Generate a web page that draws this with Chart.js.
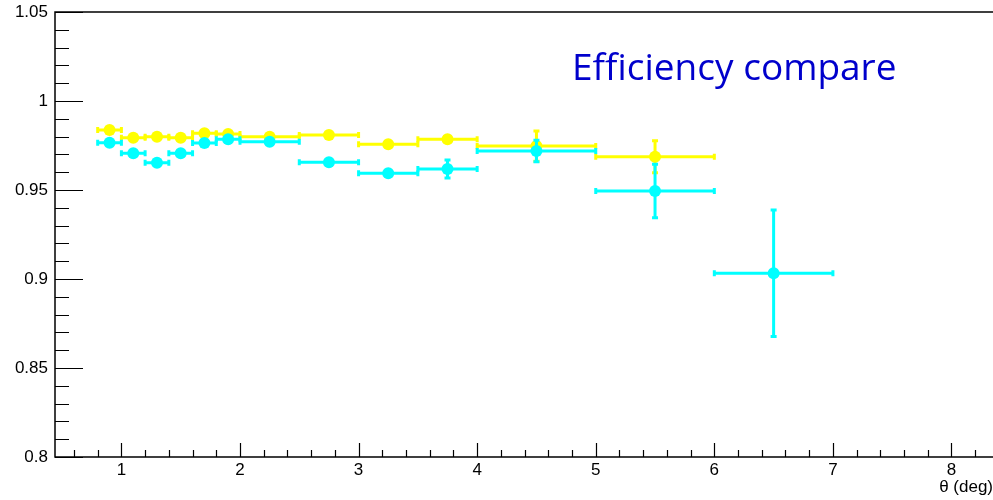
<html lang="en">

<head>
  <meta charset="utf-8">
  <title>Efficiency compare</title>
  <style>
    body {
      padding: 0;
      margin: 0;
      background: #fff;
    }
  </style>
  <script src="https://cdn.jsdelivr.net/npm/chart.js@4.4.1/dist/chart.umd.min.js"></script>
</head>

<body>
  <canvas id="chart" width="993" height="500"></canvas>
  <script>
    // bins in theta (deg): centre and half width
    const binX   = [0.9, 1.1, 1.3, 1.5, 1.7, 1.9, 2.25, 2.75, 3.25, 3.75, 4.5, 5.5, 6.5];
    const binErr = [0.1, 0.1, 0.1, 0.1, 0.1, 0.1, 0.25, 0.25, 0.25, 0.25, 0.5, 0.5, 0.5];

    // yellow series (no entry in the last bin)
    const effYellow    = [0.9837, 0.9794, 0.9799, 0.9794, 0.9819, 0.9815, 0.9799, 0.9809, 0.9757, 0.9785, 0.9747, 0.9687];
    const effYellowErr = [0.002, 0.002, 0.002, 0.002, 0.002, 0.002, 0.002, 0.002, 0.0025, 0.003, 0.0085, 0.009];

    // cyan series
    const effCyan    = [0.9766, 0.9706, 0.9653, 0.9706, 0.9764, 0.9785, 0.9771, 0.9656, 0.9594, 0.9618, 0.9719, 0.9494, 0.9032];
    const effCyanErr = [0.002, 0.002, 0.002, 0.002, 0.002, 0.002, 0.002, 0.003, 0.003, 0.005, 0.006, 0.015, 0.0355];

    const xTicks = [1, 2, 3, 4, 5, 6, 7, 8];
    const yTicks = [0.8, 0.85, 0.9, 0.95, 1, 1.05];

    function points(vals) {
      return vals.map((v, i) => ({ x: binX[i], y: v }));
    }

    const series = [
      { color: '#00ffff', vals: effCyan, err: effCyanErr },
      { color: '#ffff00', vals: effYellow, err: effYellowErr }
    ];

    // error bars with little end caps, drawn just before each dataset's markers
    const errorBars = {
      id: 'errorBars',
      beforeDatasetDraw(chart, args) {
        const s = series[args.index];
        const xs = chart.scales.x, ys = chart.scales.y;
        const ctx = chart.ctx;
        ctx.save();
        ctx.strokeStyle = s.color;
        ctx.lineWidth = 3;
        s.vals.forEach((v, i) => {
          const px = xs.getPixelForValue(binX[i]);
          const py = ys.getPixelForValue(v);
          const x0 = xs.getPixelForValue(binX[i] - binErr[i]);
          const x1 = xs.getPixelForValue(binX[i] + binErr[i]);
          const y0 = ys.getPixelForValue(v - s.err[i]);
          const y1 = ys.getPixelForValue(v + s.err[i]);
          ctx.beginPath();
          ctx.moveTo(x0, py); ctx.lineTo(x1, py);
          ctx.moveTo(x0, py - 3); ctx.lineTo(x0, py + 3);
          ctx.moveTo(x1, py - 3); ctx.lineTo(x1, py + 3);
          if (Math.abs(y0 - y1) > 12) {
            ctx.moveTo(px, y0); ctx.lineTo(px, y1);
            ctx.moveTo(px - 3, y0); ctx.lineTo(px + 3, y0);
            ctx.moveTo(px - 3, y1); ctx.lineTo(px + 3, y1);
          }
          ctx.stroke();
        });
        ctx.restore();
      }
    };

    // ROOT style frame with ticks on the inside
    const frame = {
      id: 'frame',
      afterDraw(chart) {
        const { left, right, top, bottom } = chart.chartArea;
        const xs = chart.scales.x, ys = chart.scales.y;
        const ctx = chart.ctx;
        ctx.save();
        ctx.strokeStyle = '#000';
        ctx.lineWidth = 1.5;
        ctx.beginPath();
        ctx.moveTo(right, top); ctx.lineTo(left, top);
        ctx.lineTo(left, bottom); ctx.lineTo(right, bottom);
        ctx.stroke();

        ctx.lineWidth = 1.2;
        ctx.beginPath();
        for (let i = 3; i <= 41; i++) {
          const v = i / 5;
          if (v < xs.min || v > xs.max) continue;
          const px = Math.round(xs.getPixelForValue(v)) + 0.5;
          const len = (i % 5 === 0) ? 14 : 7;
          ctx.moveTo(px, bottom); ctx.lineTo(px, bottom - len);
        }
        for (let i = 80; i <= 105; i++) {
          const py = Math.round(ys.getPixelForValue(i / 100)) + 0.5;
          const len = (i % 5 === 0) ? 28 : 14;
          ctx.moveTo(left, py); ctx.lineTo(left + len, py);
        }
        ctx.stroke();

        ctx.fillStyle = '#0000cc';
        ctx.font = '37px "Open Sans"';
        ctx.textBaseline = 'alphabetic';
        ctx.fillText('Efficiency compare', 572, 80);
        ctx.restore();
      }
    };

    const tickFont = { family: '"Liberation Sans"', size: 17 };

    new Chart(document.getElementById('chart'), {
      type: 'scatter',
      data: {
        datasets: series.map(s => ({
          data: points(s.vals),
          backgroundColor: s.color,
          borderWidth: 0,
          pointRadius: 6,
          showLine: false
        }))
      },
      options: {
        responsive: false,
        animation: false,
        layout: { autoPadding: false, padding: { top: 12, right: 0, left: 0, bottom: 0 } },
        plugins: { legend: { display: false }, tooltip: { enabled: false } },
        scales: {
          x: {
            type: 'linear',
            min: 0.44,
            max: 8.35,
            grid: { display: false, drawTicks: false },
            border: { display: false },
            afterBuildTicks: s => { s.ticks = xTicks.map(v => ({ value: v })); },
            afterFit: s => { s.height = 43; s.paddingLeft = 0; s.paddingRight = 0; },
            ticks: {
              color: '#000',
              padding: 3,
              font: tickFont,
              maxRotation: 0
            },
            title: {
              display: true,
              text: 'θ (deg)',
              align: 'end',
              color: '#000',
              font: { family: '"Liberation Sans"', size: 17 },
              padding: { top: 0, bottom: 2 }
            }
          },
          y: {
            min: 0.8,
            max: 1.05,
            grid: { display: false, drawTicks: false },
            border: { display: false },
            afterBuildTicks: s => { s.ticks = yTicks.map(v => ({ value: v })); },
            afterFit: s => { s.width = 55; s.paddingTop = 0; s.paddingBottom = 0; },
            ticks: {
              color: '#000',
              padding: 7,
              font: tickFont,
              callback: v => String(parseFloat(v.toFixed(2)))
            }
          }
        }
      },
      plugins: [errorBars, frame]
    });
  </script>
</body>

</html>
